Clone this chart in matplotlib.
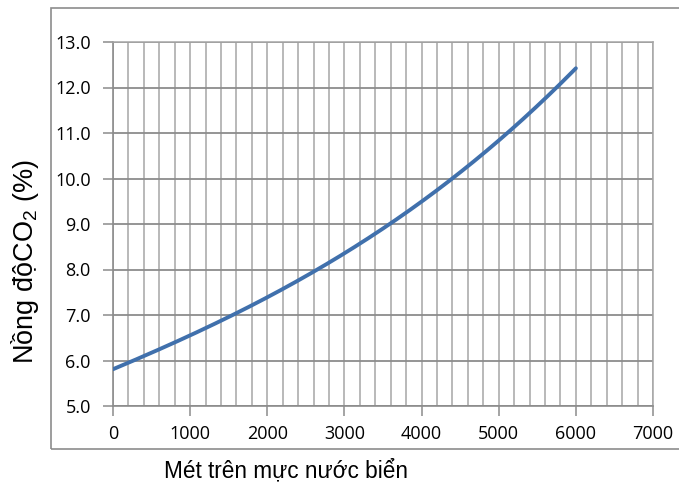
import matplotlib
matplotlib.use("Agg")
import matplotlib.pyplot as plt
import numpy as np
from matplotlib.patches import Rectangle
from matplotlib.ticker import MultipleLocator
from matplotlib import font_manager

altitude = [0, 500, 1000, 1500, 2000, 2500, 3000, 3500, 4000, 4500, 5000, 5500, 6000]
co2 = [5.80, 6.18, 6.56, 6.96, 7.38, 7.85, 8.36, 8.88, 9.50, 10.17, 10.82, 11.58, 12.43]
xticks = [0, 1000, 2000, 3000, 4000, 5000, 6000, 7000]
yticks = [5.0, 6.0, 7.0, 8.0, 9.0, 10.0, 11.0, 12.0, 13.0]

plt.rcParams['font.family'] = ['Open Sans', 'DejaVu Sans']
plt.rcParams['mathtext.fontset'] = 'custom'
plt.rcParams['mathtext.rm'] = 'Liberation Sans'
plt.rcParams['mathtext.it'] = 'Liberation Sans'

names = {f.name for f in font_manager.fontManager.ttflist}
narrow = 'Liberation Sans Narrow' if 'Liberation Sans Narrow' in names else None

fig = plt.figure(figsize=(6.79, 4.87), dpi=100)
ax = fig.add_axes([113/679, 1-406/487, 540/679, 364/487])

# smooth curve through read points
xs = np.linspace(0, 6000, 300)
coef = np.polyfit(altitude, co2, 3)
ax.plot(xs, np.polyval(coef, xs), color='#4070AC', lw=2.8, solid_capstyle='round', zorder=3)

ax.set_xlim(0, 7000)
ax.set_ylim(5, 13)
ax.set_xticks(xticks)
ax.set_yticks(yticks)
ax.set_yticklabels([f"{v:.1f}" for v in yticks])
ax.xaxis.set_minor_locator(MultipleLocator(200))
ax.grid(which='major', axis='y', color='#8c8c8c', lw=1.3)
ax.grid(which='minor', axis='x', color='#a6a6a6', lw=1.1)
ax.grid(which='major', axis='x', color='#a6a6a6', lw=1.1)
ax.tick_params(which='minor', length=0)
ax.tick_params(which='major', direction='out', length=7, color='#8c8c8c', width=1.1,
               labelsize=13)
ax.tick_params(axis='x', pad=7)
ax.tick_params(axis='y', pad=9)
for s in ['left', 'bottom']:
    ax.spines[s].set_color('#8c8c8c')
    ax.spines[s].set_linewidth(1.2)
for s in ['top', 'right']:
    ax.spines[s].set_color('#a6a6a6')
    ax.spines[s].set_linewidth(1.1)
ax.set_axisbelow(True)

fig.patches.append(Rectangle((51/679, 1-449/487), 1.0, (449-8)/487, transform=fig.transFigure,
                             fill=False, edgecolor='#8c8c8c', lw=1.2))

if narrow:
    fig.text(286/679, 1-471/487, "Mét trên mực nước biển", ha='center', va='center',
             fontsize=19.5, family=[narrow])
else:
    fig.text(286/679, 1-471/487, "Mét trên mực nước biển", ha='center', va='center',
             fontsize=16.3, family=['Liberation Sans'])
fig.text(25/679, 1-262/487, "Nồng độCO$_2$ (%)", ha='center', va='center', rotation=90,
         fontsize=19.5, family=['Liberation Sans'])

fig.savefig("out.png", dpi=100)
